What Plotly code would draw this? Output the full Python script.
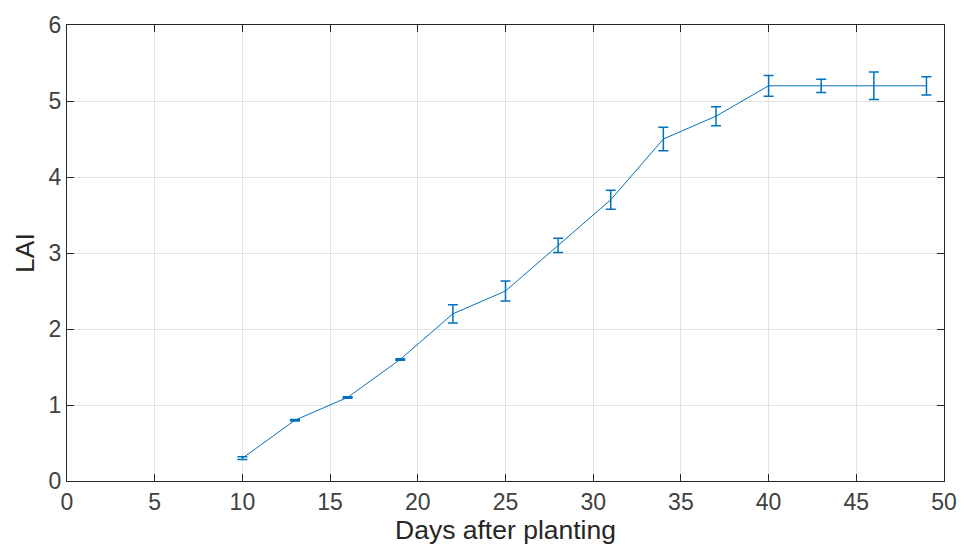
import plotly.graph_objects as go

# Leaf area index measured over the growing season
days = [10, 13, 16, 19, 22, 25, 28, 31, 34, 37, 40, 43, 46, 49]
lai = [0.3, 0.8, 1.1, 1.6, 2.2, 2.5, 3.1, 3.7, 4.5, 4.8, 5.2, 5.2, 5.2, 5.2]
lai_err = [0.018, 0.01, 0.01, 0.01, 0.12, 0.13, 0.095, 0.125, 0.155, 0.125,
           0.137, 0.087, 0.18, 0.12]

x_ticks = [0, 5, 10, 15, 20, 25, 30, 35, 40, 45, 50]
y_ticks = [0, 1, 2, 3, 4, 5, 6]

blue = "#0072BD"
axis_col = "#262626"
grid_col = "#e3e3e3"
font_family = "Liberation Sans, Arial, sans-serif"

fig = go.Figure(
    go.Scatter(
        x=days,
        y=lai,
        mode="lines",
        line=dict(color=blue, width=1),
        error_y=dict(type="data", array=lai_err, visible=True,
                     color=blue, thickness=1.5, width=5),
        showlegend=False,
    )
)

axis_common = dict(
    showline=True,
    linecolor=axis_col,
    linewidth=1,
    mirror="ticks",
    ticks="inside",
    ticklen=7,
    tickwidth=1,
    tickcolor=axis_col,
    showgrid=True,
    gridcolor=grid_col,
    gridwidth=1,
    zeroline=False,
    tickfont=dict(family=font_family, size=23, color="#404040"),
)

fig.update_layout(
    width=969,
    height=557,
    margin=dict(l=67, r=20, t=21, b=76),
    paper_bgcolor="white",
    plot_bgcolor="white",
    font=dict(family=font_family, color="#404040"),
    xaxis=dict(
        range=[0, 50],
        tickvals=x_ticks,
        title=dict(text="Days after planting",
                   font=dict(family=font_family, size=26.5, color="#262626"),
                   standoff=2),
        **axis_common,
    ),
    yaxis=dict(
        range=[0, 6],
        tickvals=y_ticks,
        title=dict(text="LAI",
                   font=dict(family=font_family, size=26.5, color="#262626"),
                   standoff=6),
        **axis_common,
    ),
)

fig.write_html("out.html")
